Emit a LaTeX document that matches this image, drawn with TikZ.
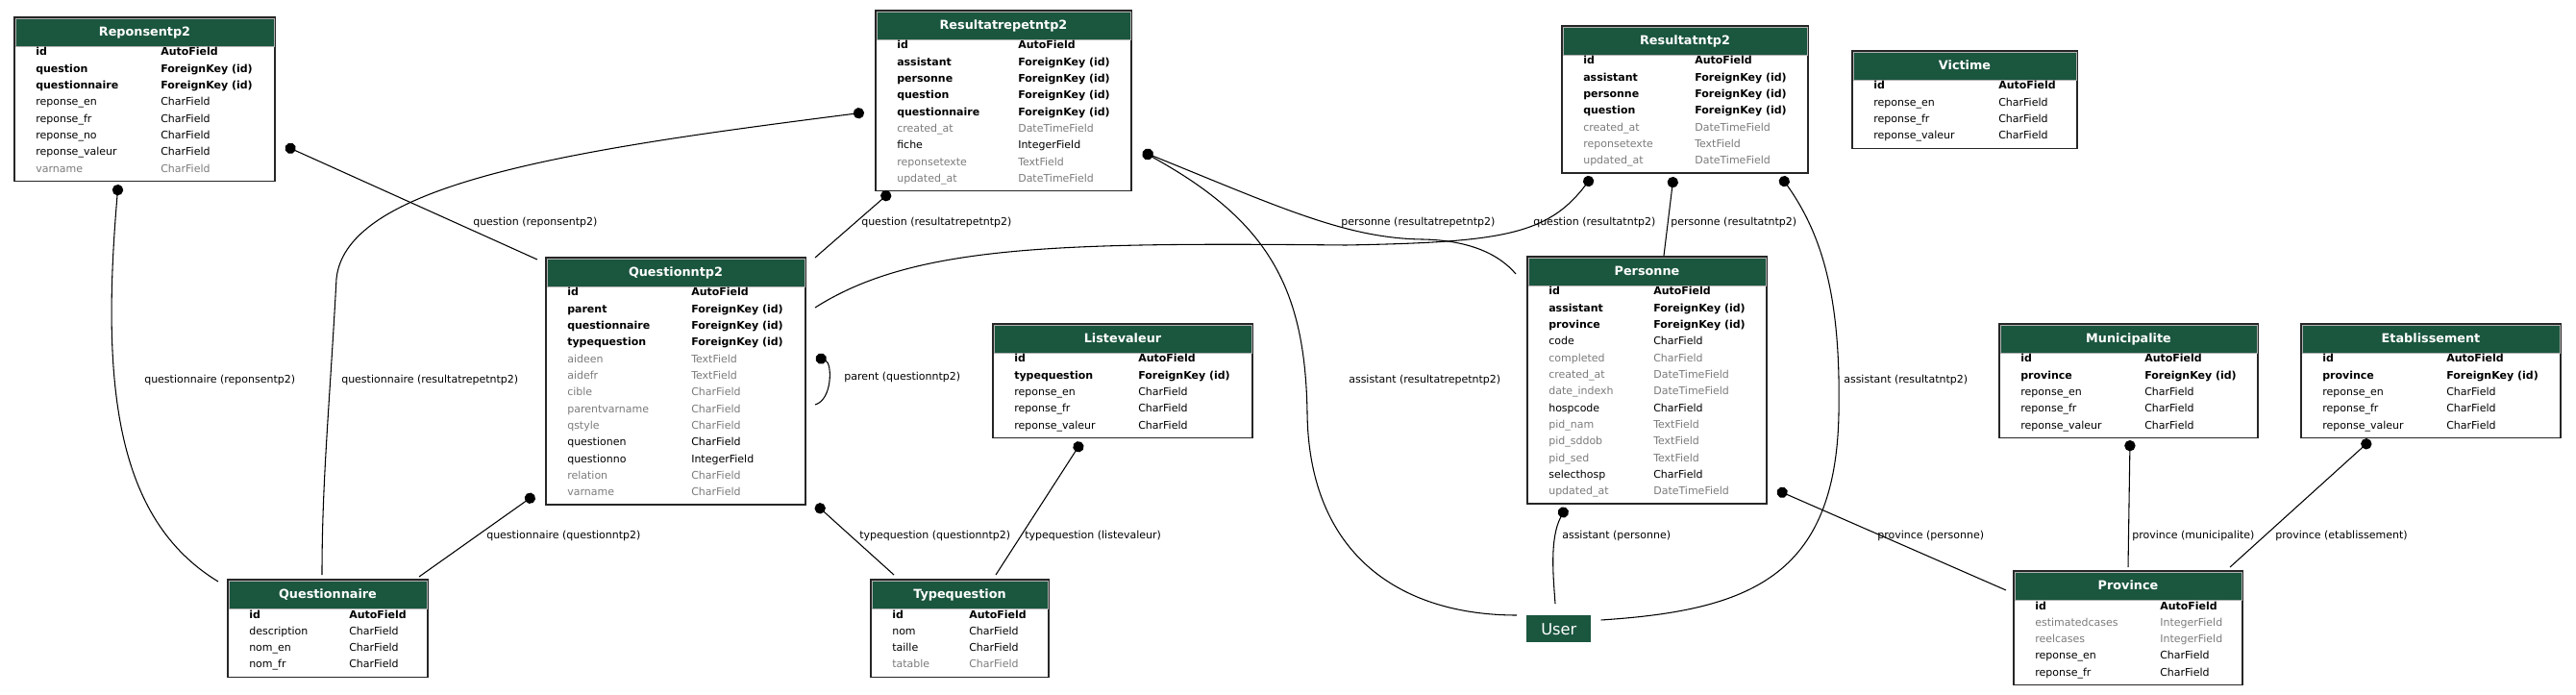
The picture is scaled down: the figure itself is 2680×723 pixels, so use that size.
\documentclass[tikz,border=0pt]{standalone}
\usepackage{fontspec}
\setmainfont{DejaVu Sans}
\usetikzlibrary{arrows.meta}
\definecolor{hdrgreen}{HTML}{1B563F}
\definecolor{nullgrey}{HTML}{7B7B7B}
\tikzset{
  tablebox/.style={draw=black!85, line width=1pt, inner sep=0pt, outer sep=0pt},
  tablehead/.style={fill=hdrgreen, draw=black!30, line width=0.4pt},
  tabletitle/.style={text=white, anchor=mid, inner sep=0pt,
    font=\fontsize{9.6}{11}\selectfont\bfseries},
  fieldtext/.style={anchor=base west, inner sep=0pt},
  fkey/.style={font=\fontsize{8.25}{10}\selectfont\bfseries},
  fplain/.style={font=\fontsize{8.25}{10}\selectfont},
  fnull/.style={font=\fontsize{8.25}{10}\selectfont, text=nullgrey},
  relation/.style={line width=0.8pt, {Circle[length=8.5pt]}-},
  rellabel/.style={anchor=west, inner sep=0pt, font=\fontsize{8.25}{10}\selectfont},
  userbox/.style={fill=hdrgreen, text=white, inner sep=0pt, anchor=north west,
    minimum width=50.25pt, minimum height=21pt, font=\fontsize{12.2}{14}\selectfont},
}
% #1 name, #2 title, #3 top left, #4 width, #5 rows, #6 type column, #7 fields
\newcommand{\dbtable}[7]{%
  \node[tablebox, anchor=north west, minimum width=#4*0.75pt,
    minimum height={0.75pt*(32+#5*17.3)}] (#1) at #3 {};
  \filldraw[tablehead] ([shift={(1,1)}]#1.north west) rectangle ([shift={(-1,30)}]#1.north east);
  \node[tabletitle] at ([shift={(0,16)}]#1.north) {#2};
  \foreach \fname/\ftype/\fstyle [count=\i] in {#7} {
    \node[fieldtext, \fstyle] at ([shift={(22,{40+(\i-1)*17.3})}]#1.north west) {\fname};
    \node[fieldtext, \fstyle] at ([shift={(#6,{40+(\i-1)*17.3})}]#1.north west) {\ftype};
  }%
}
\begin{document}
\begin{tikzpicture}[x=0.75pt,y=-0.75pt]
  \useasboundingbox (0,0) rectangle (2680,723);

  \dbtable{reponsentp2}{Reponsentp2}{(15,18)}{271}{8}{152}{
    id/AutoField/fkey, question/ForeignKey (id)/fkey, questionnaire/ForeignKey (id)/fkey,
    reponse\_en/CharField/fplain, reponse\_fr/CharField/fplain, reponse\_no/CharField/fplain,
    reponse\_valeur/CharField/fplain, varname/CharField/fnull}
  \dbtable{resultatrepetntp2}{Resultatrepetntp2}{(911,11)}{266}{9}{148}{
    id/AutoField/fkey, assistant/ForeignKey (id)/fkey, personne/ForeignKey (id)/fkey,
    question/ForeignKey (id)/fkey, questionnaire/ForeignKey (id)/fkey,
    created\_at/DateTimeField/fnull, fiche/IntegerField/fplain,
    reponsetexte/TextField/fnull, updated\_at/DateTimeField/fnull}
  \dbtable{resultatntp2}{Resultatntp2}{(1625,27)}{256}{7}{138}{
    id/AutoField/fkey, assistant/ForeignKey (id)/fkey, personne/ForeignKey (id)/fkey,
    question/ForeignKey (id)/fkey, created\_at/DateTimeField/fnull,
    reponsetexte/TextField/fnull, updated\_at/DateTimeField/fnull}
  \dbtable{victime}{Victime}{(1927,53)}{234}{4}{152}{
    id/AutoField/fkey, reponse\_en/CharField/fplain, reponse\_fr/CharField/fplain,
    reponse\_valeur/CharField/fplain}
  \dbtable{questionntp2}{Questionntp2}{(568,268)}{270}{13}{151}{
    id/AutoField/fkey, parent/ForeignKey (id)/fkey, questionnaire/ForeignKey (id)/fkey,
    typequestion/ForeignKey (id)/fkey, aideen/TextField/fnull, aidefr/TextField/fnull,
    cible/CharField/fnull, parentvarname/CharField/fnull, qstyle/CharField/fnull,
    questionen/CharField/fplain, questionno/IntegerField/fplain,
    relation/CharField/fnull, varname/CharField/fnull}
  \dbtable{listevaleur}{Listevaleur}{(1033,337)}{270}{5}{151}{
    id/AutoField/fkey, typequestion/ForeignKey (id)/fkey, reponse\_en/CharField/fplain,
    reponse\_fr/CharField/fplain, reponse\_valeur/CharField/fplain}
  \dbtable{personne}{Personne}{(1589,267)}{249}{13}{131}{
    id/AutoField/fkey, assistant/ForeignKey (id)/fkey, province/ForeignKey (id)/fkey,
    code/CharField/fplain, completed/CharField/fnull, created\_at/DateTimeField/fnull,
    date\_indexh/DateTimeField/fnull, hospcode/CharField/fplain, pid\_nam/TextField/fnull,
    pid\_sddob/TextField/fnull, pid\_sed/TextField/fnull, selecthosp/CharField/fplain,
    updated\_at/DateTimeField/fnull}
  \dbtable{municipalite}{Municipalite}{(2080,337)}{269}{5}{151}{
    id/AutoField/fkey, province/ForeignKey (id)/fkey, reponse\_en/CharField/fplain,
    reponse\_fr/CharField/fplain, reponse\_valeur/CharField/fplain}
  \dbtable{etablissement}{Etablissement}{(2394,337)}{270}{5}{151}{
    id/AutoField/fkey, province/ForeignKey (id)/fkey, reponse\_en/CharField/fplain,
    reponse\_fr/CharField/fplain, reponse\_valeur/CharField/fplain}
  \dbtable{questionnaire}{Questionnaire}{(237,603)}{208}{4}{126}{
    id/AutoField/fkey, description/CharField/fplain, nom\_en/CharField/fplain,
    nom\_fr/CharField/fplain}
  \dbtable{typequestion}{Typequestion}{(906,603)}{185}{4}{102}{
    id/AutoField/fkey, nom/CharField/fplain, taille/CharField/fplain,
    tatable/CharField/fnull}
  \dbtable{province}{Province}{(2095,594)}{238}{5}{152}{
    id/AutoField/fkey, estimatedcases/IntegerField/fnull, reelcases/IntegerField/fnull,
    reponse\_en/CharField/fplain, reponse\_fr/CharField/fplain}
  \node[userbox] (user) at (1588,640) {User};

  \draw[relation] ([shift={(282,134)}]reponsentp2.north west) -- ([shift={(-9,2)}]questionntp2.north west);
  \draw[relation] ([shift={(108,174)}]reponsentp2.north west) .. controls (105,400) and (120,540) .. ([shift={(-10,2)}]questionnaire.north west);
  \draw[relation] ([shift={(-12,106)}]resultatrepetntp2.north west) .. controls (600,155) and (360,190) .. (350,290)
    .. controls (343,420) and (335,500) .. ([shift={(98,-5)}]questionnaire.north west);
  \draw[relation] ([shift={(15,189)}]resultatrepetntp2.north west) -- ([shift={(280,0)}]questionntp2.north west);
  \draw[relation] ([shift={(278,147)}]resultatrepetntp2.north west) .. controls (1330,215) and (1400,248) .. (1480,249)
    .. controls (1530,250) and (1560,265) .. ([shift={(-12,18)}]personne.north west);
  \draw[relation] ([shift={(278,147)}]resultatrepetntp2.north west) .. controls (1320,230) and (1358,300) .. (1360,430)
    .. controls (1362,580) and (1460,640) .. ([shift={(-10,0)}]user.north west);
  \draw[relation] ([shift={(31,157)}]resultatntp2.north west) .. controls (1610,245) and (1560,252) .. (1400,255)
    .. controls (1100,252) and (950,255) .. ([shift={(280,52)}]questionntp2.north west);
  \draw[relation] ([shift={(116,157)}]resultatntp2.north west) -- ([shift={(142,-1)}]personne.north west);
  \draw[relation] ([shift={(228,157)}]resultatntp2.north west) .. controls (1900,250) and (1915,320) .. (1913,430)
    .. controls (1910,600) and (1820,635) .. ([shift={(10,5)}]user.north east);
  \draw[relation] ([shift={(281,103)}]questionntp2.north west) .. controls (866,378) and (866,416) .. ([shift={(280,153)}]questionntp2.north west);
  \draw[relation] ([shift={(-12,247)}]questionntp2.north west) -- ([shift={(199,-3)}]questionnaire.north west);
  \draw[relation] ([shift={(281,257)}]questionntp2.north west) -- ([shift={(24,-5)}]typequestion.north west);
  \draw[relation] ([shift={(92,123)}]listevaleur.north west) -- ([shift={(130,-5)}]typequestion.north west);
  \draw[relation] ([shift={(40,261)}]personne.north west) .. controls (1612,560) and (1616,600) .. ([shift={(30,-12)}]user.north west);
  \draw[relation] ([shift={(260,243)}]personne.north west) -- ([shift={(-8,20)}]province.north west);
  \draw[relation] ([shift={(136,121)}]municipalite.north west) -- ([shift={(119,-4)}]province.north west);
  \draw[relation] ([shift={(72,121)}]etablissement.north west) -- ([shift={(225,-4)}]province.north west);

  \node[rellabel] (q-rep) at (492,231) {question (reponsentp2)};
  \node[rellabel] (q-rrp) at (896,231) {question (resultatrepetntp2)};
  \node[rellabel] (p-rrp) at (1395,231) {personne (resultatrepetntp2)};
  \node[rellabel] (q-res) at (1595,231) {question (resultatntp2)};
  \node[rellabel] (p-res) at (1738,231) {personne (resultatntp2)};
  \node[rellabel] (qn-rep) at (150,395) {questionnaire (reponsentp2)};
  \node[rellabel] (qn-rrp) at (355,395) {questionnaire (resultatrepetntp2)};
  \node[rellabel] (par-q) at (878,392) {parent (questionntp2)};
  \node[rellabel] (a-rrp) at (1403,395) {assistant (resultatrepetntp2)};
  \node[rellabel] (a-res) at (1918,395) {assistant (resultatntp2)};
  \node[rellabel] (qn-q) at (506,557) {questionnaire (questionntp2)};
  \node[rellabel] (tq-q) at (894,557) {typequestion (questionntp2)};
  \node[rellabel] (tq-lv) at (1066,557) {typequestion (listevaleur)};
  \node[rellabel] (a-per) at (1625,557) {assistant (personne)};
  \node[rellabel] (pr-per) at (1953,557) {province (personne)};
  \node[rellabel] (pr-mun) at (2218,557) {province (municipalite)};
  \node[rellabel] (pr-eta) at (2367,557) {province (etablissement)};
\end{tikzpicture}
\end{document}
